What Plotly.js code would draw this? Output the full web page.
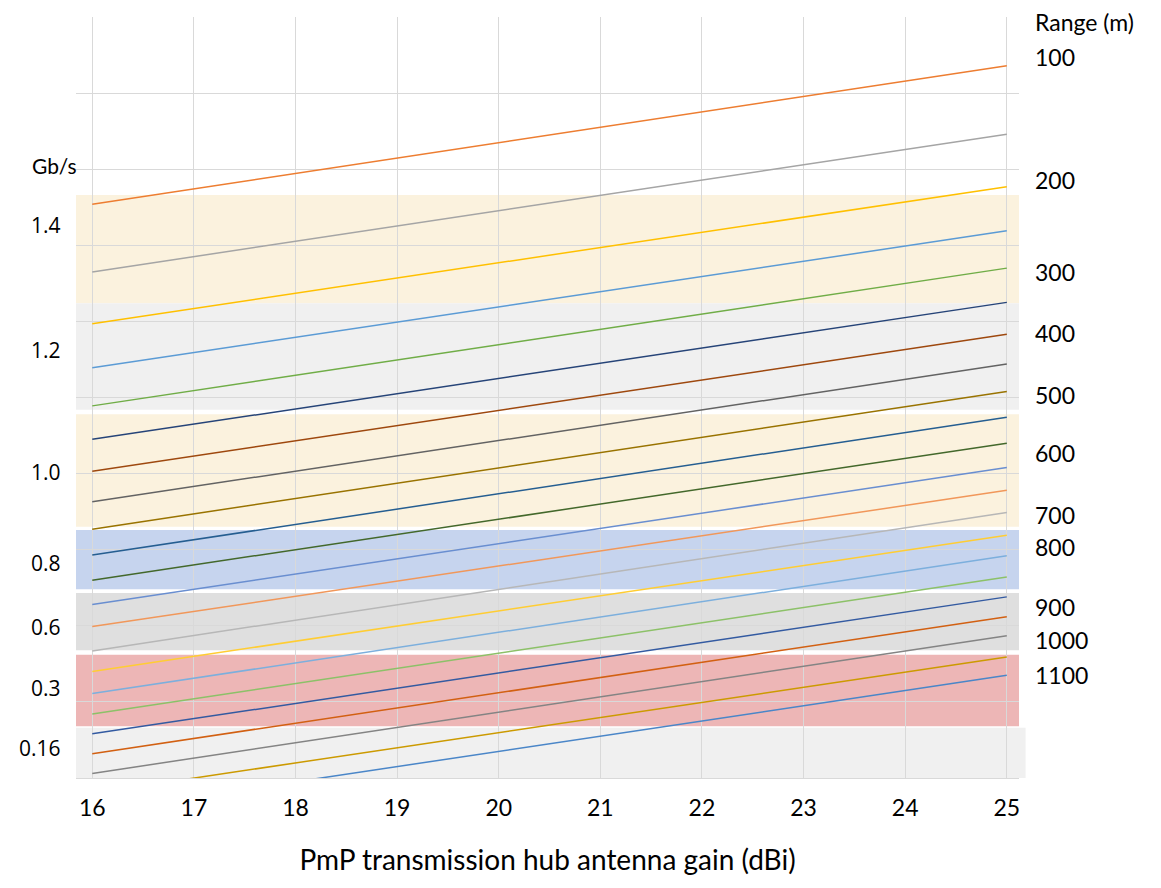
<!DOCTYPE html>
<html><head><meta charset="utf-8">
<script src="https://cdn.plot.ly/plotly-3.0.1.min.js"></script>
<style>body{margin:0;background:#fff}#chart{width:1161px;height:888px}</style>
</head><body><div id="chart"></div>
<script>
// x: PmP hub antenna gain (dBi); each range curve is a straight line from 16 to 25 dBi
const gainX = [16, 25];
const rangeSeries = ['50','100','150','200','250','300','350','400','450','500','550','600','650','700','750','800','850','900','950','1000','1050','1100'];
const valueAt16 = [7.54, 6.65, 5.97, 5.39, 4.89, 4.45, 4.03, 3.63, 3.27, 2.93, 2.60, 2.28, 1.99, 1.67, 1.40, 1.11, 0.84, 0.58, 0.32, 0.06, -0.20, -0.45];
const valueAt25 = [9.36, 8.46, 7.77, 7.19, 6.70, 6.25, 5.83, 5.44, 5.08, 4.74, 4.40, 4.08, 3.78, 3.49, 3.19, 2.92, 2.64, 2.38, 2.12, 1.87, 1.59, 1.35];
const lineColors = ['#ED7D31','#A5A5A5','#FFC000','#5B9BD5','#70AD47','#264478','#9E480E','#636363','#997300','#255E91','#43682B','#698ED0','#F1975A','#B7B7B7','#FFCD33','#7CAFDD','#8CC168','#335AA1','#D26012','#848484','#CC9A00','#4A86C8'];

// throughput bands (lower / upper edge on the same value scale)
const rateLabels = ['1.4','1.2','1.0','0.8','0.6','0.3','0.16'];
const bandTop    = [7.66, 6.24, 4.78, 3.26, 2.43, 1.62, 0.66];
const bandBottom = [6.24, 4.84, 3.30, 2.48, 1.68, 0.68, 0.0];
const bandColors = ['#FBF2DE','#F0F0F0','#FBF2DE','#C6D4EE','#DFDFDF','#EDB6B6','#F0F0F0'];

// right-hand range labels
const rangeLabels = ['Range (m)','100','200','300','400','500','600','700','800','900','1000','1100'];

const PT = 17, PB = 778; // plot top / bottom in px
function py(p){ return (PB - p) / (PB - PT); }

const traces = valueAt16.map((v, i) => ({
  type: 'scatter', mode: 'lines', x: gainX, y: [v, valueAt25[i]],
  name: rangeSeries[i], line: {color: lineColors[i], width: 1.5}, hoverinfo: 'name+y'
}));

const shapes = bandTop.map((t, i) => ({
  type: 'rect', xref: 'paper', yref: 'y', x0: 0, x1: i === bandTop.length - 1 ? 1.007 : 1,
  y0: bandBottom[i], y1: t, fillcolor: bandColors[i], line: {width: 0}, layer: 'below'
}));

const leftY = [225, 350, 472, 563, 627, 688, 748];
const rightY = [22, 57, 180, 272, 333, 395, 453, 515, 547, 607, 640, 675];
const annotations = [];
annotations.push({xref:'paper', yref:'paper', x: (54-76)/943, y: py(165), text:'Gb/s', showarrow:false,
  xanchor:'center', yanchor:'middle', font:{family:'Lato, Open Sans, sans-serif', size:21, color:'#000'}});
rateLabels.forEach((t, i) => annotations.push({xref:'paper', yref:'paper', x:(63-76)/943, y: py(leftY[i]), text:t,
  showarrow:false, xanchor:'right', yanchor:'middle', font:{family:'Open Sans, sans-serif', size:21, color:'#000'}}));
rangeLabels.forEach((t, i) => annotations.push({xref:'paper', yref:'paper', x:(1033-76)/943, y: py(rightY[i]), text:t,
  showarrow:false, xanchor:'left', yanchor:'middle', font:{family:'Lato, Open Sans, sans-serif', size:23, color:'#000'}}));

const layout = {
  width: 1161, height: 888,
  margin: {l: 76, r: 142, t: PT, b: 888 - PB},
  paper_bgcolor: '#fff', plot_bgcolor: '#fff',
  showlegend: false,
  xaxis: {range: [15.84, 25.12], tickmode: 'linear', tick0: 16, dtick: 1, showgrid: true, gridcolor: '#D9D9D9', gridwidth: 1,
    zeroline: false, showline: true, linecolor: '#D9D9D9', ticks: '', ticklabelstandoff: 9,
    tickfont: {family: 'Liberation Sans Narrow, Lato, sans-serif', size: 23, color: '#000'},
    title: {text: 'PmP transmission hub antenna gain (dBi)', standoff: 30, font: {family: 'Lato, Open Sans, sans-serif', size: 28, color: '#000'}}},
  yaxis: {range: [0, 10], tickmode: 'linear', tick0: 0, dtick: 1, showgrid: true, gridcolor: '#D9D9D9', gridwidth: 1,
    zeroline: false, showticklabels: false, showline: false, ticks: ''},
  shapes: shapes, annotations: annotations
};
Plotly.newPlot('chart', traces, layout, {displayModeBar: false, staticPlot: true});
</script></body></html>
